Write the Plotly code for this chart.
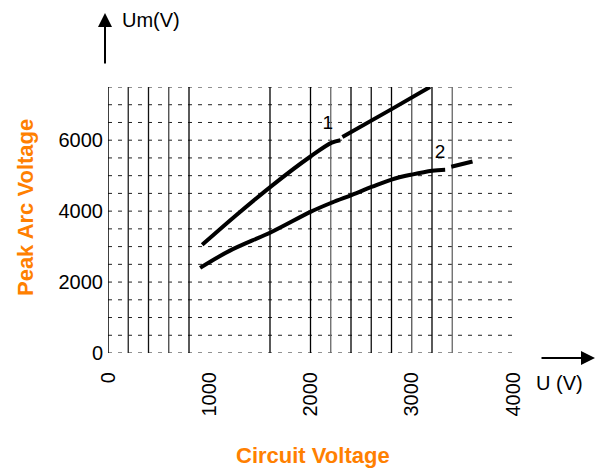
import plotly.graph_objects as go

# ---- data ----
curve1_x = [930, 1260, 1620, 2000, 2210, 2295, None, 2315, 2810, 3180]
curve1_y = [3050, 3870, 4720, 5540, 5930, 6000, None, 6090, 6890, 7500]
curve2_x = [910, 1200, 1620, 2000, 2210, 2410, 2610, 2800, 3000, 3200, 3330, None, 3390, 3600]
curve2_y = [2400, 2880, 3420, 3980, 4240, 4460, 4690, 4890, 5030, 5140, 5170, None, 5250, 5400]
curve_labels = ["1", "2"]
label_pos_x = [2170, 3280]
label_pos_y = [6450, 5620]

x_ticks = [0, 1000, 2000, 3000, 4000]
y_ticks = [0, 2000, 4000, 6000]
v_grid = [0, 200, 400, 600, 800, 1600, 2000, 2200, 2400, 2600, 2800, 3000, 3200, 3400]
v_grid_color = ["#000", "#222", "#111", "#444", "#000", "#000", "#000", "#666", "#000", "#111", "#000", "#555", "#000", "#666"]
h_grid = list(range(0, 7501, 500))

ORANGE = "#FF8000"
TXT = "Liberation Sans, Arial, sans-serif"
BOLD = "Liberation Sans Narrow, Liberation Sans, Arial, sans-serif"

fig = go.Figure()
fig.add_trace(go.Scatter(x=curve1_x, y=curve1_y, mode="lines", connectgaps=False,
                         line=dict(color="black", width=4, shape="spline"),
                         showlegend=False, hoverinfo="skip"))
fig.add_trace(go.Scatter(x=curve2_x, y=curve2_y, mode="lines", connectgaps=False,
                         line=dict(color="black", width=4, shape="spline"),
                         showlegend=False, hoverinfo="skip"))
fig.add_trace(go.Scatter(x=label_pos_x, y=label_pos_y, mode="text", text=curve_labels,
                         textfont=dict(family=TXT, size=19, color="black"),
                         showlegend=False, hoverinfo="skip"))

shapes = []
for yv in h_grid:
    shapes.append(dict(type="line", xref="x", yref="y", x0=0, x1=3990, y0=yv, y1=yv,
                       line=dict(color="#222", width=1, dash="4px,6px"), layer="below"))
for xv, c in zip(v_grid, v_grid_color):
    shapes.append(dict(type="line", xref="x", yref="y", x0=xv, x1=xv, y0=0, y1=7500,
                       line=dict(color=c, width=1.5 if xv == 0 else 1.3), layer="below"))

annotations = [
    # y arrow and label
    dict(xref="paper", yref="paper", x=-0.0074, y=1.278, ax=0, ay=52, text="",
         showarrow=True, arrowhead=2, arrowsize=1.4, arrowwidth=2, arrowcolor="black"),
    dict(xref="paper", yref="paper", x=0.03, y=1.252, xanchor="left", yanchor="middle",
         text="Um(V)", showarrow=False, font=dict(family=TXT, size=20, color="black")),
    # x arrow and label
    dict(xref="paper", yref="paper", x=1.2025, y=-0.0188, ax=-55, ay=0, text="",
         showarrow=True, arrowhead=2, arrowsize=1.4, arrowwidth=2, arrowcolor="black"),
    dict(xref="paper", yref="paper", x=1.1136, y=-0.1128, xanchor="center", yanchor="middle",
         text="U (V)", showarrow=False, font=dict(family=TXT, size=20, color="black")),
    # axis titles
    dict(xref="paper", yref="paper", x=0, y=0.545, xshift=-83, xanchor="center", yanchor="middle",
         text="<b>Peak Arc Voltage</b>", textangle=-90, showarrow=False,
         font=dict(family=BOLD, size=22, color=ORANGE)),
    dict(xref="paper", yref="paper", x=0.506, y=0, yshift=-102, xanchor="center", yanchor="middle",
         text="<b>Circuit Voltage</b>", showarrow=False,
         font=dict(family=BOLD, size=22, color=ORANGE)),
]

fig.update_layout(
    width=596, height=470,
    margin=dict(l=108, r=83, t=87, b=117),
    paper_bgcolor="white", plot_bgcolor="white",
    shapes=shapes, annotations=annotations,
    xaxis=dict(range=[0, 4000], tickvals=x_ticks, ticktext=[str(v) for v in x_ticks],
               tickangle=-90, showgrid=False, zeroline=False, showline=False, ticks="",
               ticklabelstandoff=14, automargin=False,
               tickfont=dict(family=TXT, size=20, color="black")),
    yaxis=dict(range=[0, 7500], tickvals=y_ticks, ticktext=[str(v) for v in y_ticks],
               showgrid=False, zeroline=False, showline=False, ticks="",
               ticklabelstandoff=4, automargin=False,
               tickfont=dict(family=TXT, size=20, color="black")),
)

fig.write_html("out.html", config={"displayModeBar": False},
               post_script="document.body.style.margin='0';")
